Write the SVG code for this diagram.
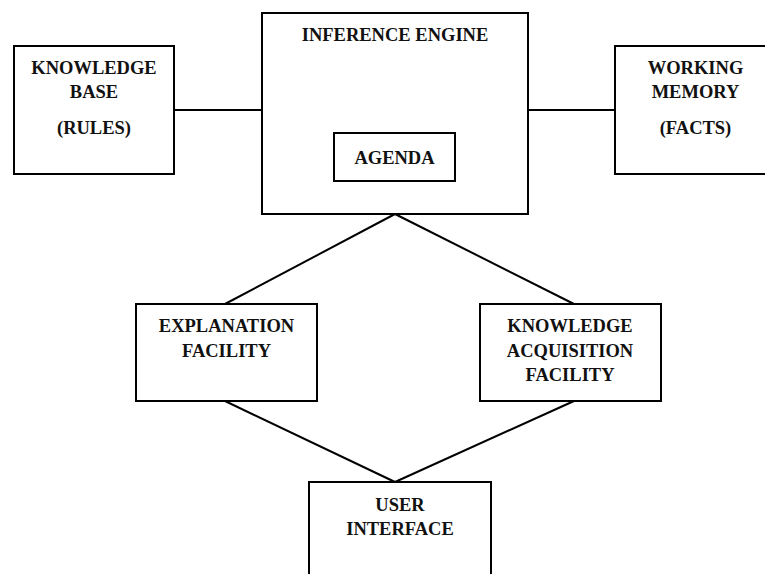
<svg xmlns="http://www.w3.org/2000/svg" width="765" height="574" viewBox="0 0 765 574">
<style>
  .box { fill: #ffffff; stroke: #000000; stroke-width: 2; }
  .conn line { stroke: #000000; stroke-width: 2; }
  text { font-family: "Liberation Serif", "Times New Roman", serif; font-weight: bold; font-size: 18.5px; fill: #111111; text-anchor: middle; }
</style>
<rect x="0" y="0" width="765" height="574" fill="#ffffff"/>
<g id="connectors" class="conn">
  <line x1="174" y1="110" x2="262" y2="110"/>
  <line x1="528" y1="110" x2="615" y2="110"/>
  <line x1="395" y1="214" x2="225" y2="304"/>
  <line x1="395" y1="214" x2="574" y2="304"/>
  <line x1="225" y1="401" x2="395" y2="482"/>
  <line x1="574" y1="401" x2="395" y2="482"/>
</g>
<g id="knowledge-base">
  <rect class="box" x="14" y="46" width="160" height="128"/>
  <text x="94" y="74">KNOWLEDGE</text>
  <text x="94" y="98">BASE</text>
  <text x="94" y="134">(RULES)</text>
</g>
<g id="inference-engine">
  <rect class="box" x="262" y="13" width="266" height="201"/>
  <text x="395" y="40.5">INFERENCE ENGINE</text>
</g>
<g id="agenda">
  <rect class="box" x="334" y="133" width="121" height="48"/>
  <text x="394.5" y="164">AGENDA</text>
</g>
<g id="working-memory">
  <rect class="box" x="615" y="46" width="162" height="128"/>
  <text x="695.5" y="74">WORKING</text>
  <text x="695.5" y="98">MEMORY</text>
  <text x="695.5" y="134">(FACTS)</text>
</g>
<g id="explanation-facility">
  <rect class="box" x="136" y="304" width="181" height="97"/>
  <text x="226.5" y="332">EXPLANATION</text>
  <text x="226.5" y="356.5">FACILITY</text>
</g>
<g id="knowledge-acquisition-facility">
  <rect class="box" x="480" y="304" width="181" height="97"/>
  <text x="570" y="332">KNOWLEDGE</text>
  <text x="570" y="356.5">ACQUISITION</text>
  <text x="570" y="381">FACILITY</text>
</g>
<g id="user-interface">
  <rect class="box" x="309" y="482" width="182" height="110"/>
  <text x="400" y="511">USER</text>
  <text x="400" y="535">INTERFACE</text>
</g>
</svg>
